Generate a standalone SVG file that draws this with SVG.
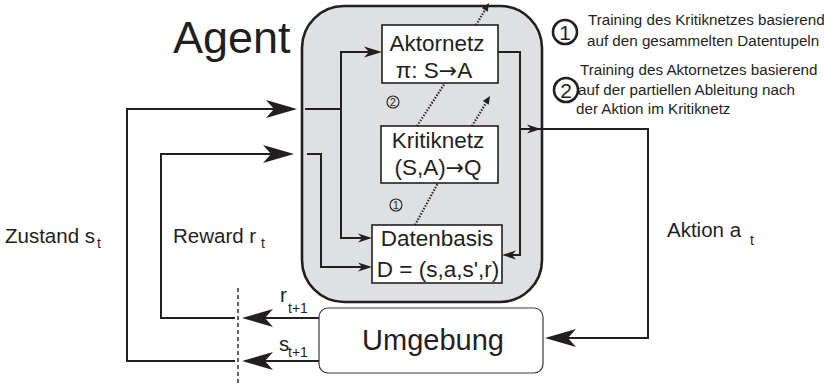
<svg xmlns="http://www.w3.org/2000/svg" width="824" height="386" viewBox="0 0 824 386">
  <style>
    text { font-family: "Liberation Sans", Arial, sans-serif; fill: #231f20; }
    .box { fill: #ffffff; stroke: #231f20; stroke-width: 1.6; }
    .wire { fill: none; stroke: #231f20; stroke-width: 2; }
    .dot { fill: none; stroke: #231f20; stroke-width: 2.2; stroke-dasharray: 1.4 1.6; }
    .head { fill: #231f20; stroke: none; }
    .inbox { font-size: 22.5px; }
    .arr { font-family: "DejaVu Sans", sans-serif; font-size: 22px; }
    .lbl { font-size: 20.5px; }
    .sub { font-size: 14px; }
    .note { font-size: 15.2px; }
    .ring { fill: none; stroke: #231f20; }
  </style>
  <defs>
    <!-- swallow-tail arrowheads pointing right, tip at origin -->
    <path id="bigHead" d="M0,0 L-31,-9 L-23,0 L-31,9 Z"/>
    <path id="smallHead" d="M0,0 L-18,-5.5 L-13,0 L-18,5.5 Z"/>
    <path id="tinyHead" d="M0,0 L-14,-4.5 L-10,0 L-14,4.5 Z"/>
    <path id="dotHead" d="M0,0 L-8,-3.5 L-8,3.5 Z"/>
  </defs>

  <!-- Agent container -->
  <g id="agent">
    <rect x="302" y="6" width="240" height="296" rx="42" ry="42" fill="#dfe0e2" stroke="#231f20" stroke-width="2.6"/>
    <text x="173" y="53" font-size="45">Agent</text>
  </g>

  <g id="aktornetz">
    <rect class="box" x="382" y="25" width="116" height="58"/>
    <text class="inbox" x="437" y="51" text-anchor="middle">Aktornetz</text>
    <text class="inbox" x="434" y="78" text-anchor="middle">π: S<tspan class="arr">→</tspan>A</text>
  </g>

  <g id="kritiknetz">
    <rect class="box" x="381" y="126" width="117" height="57"/>
    <text class="inbox" x="438" y="148" text-anchor="middle">Kritiknetz</text>
    <text class="inbox" x="438" y="175" text-anchor="middle">(S,A)<tspan class="arr">→</tspan>Q</text>
  </g>

  <g id="datenbasis">
    <rect class="box" x="372" y="225" width="130" height="58"/>
    <text class="inbox" x="437" y="246" text-anchor="middle">Datenbasis</text>
    <text class="inbox" x="438" y="277" text-anchor="middle">D = (s,a,s',r)</text>
  </g>

  <g id="umgebung">
    <rect x="319" y="308" width="224" height="65" rx="9" ry="9" fill="#ffffff" stroke="#3a3a3a" stroke-width="1.2"/>
    <text x="433" y="350" font-size="29" text-anchor="middle">Umgebung</text>
  </g>

  <!-- Connectors -->
  <g id="connectors">
    <!-- state feedback -->
    <path class="wire" d="M235,361 H127 V109 H290"/>
    <use href="#bigHead" class="head" transform="translate(297,109)"/>
    <!-- reward feedback -->
    <path class="wire" d="M235,318 H161 V154 H288"/>
    <use href="#bigHead" class="head" transform="translate(294,154)"/>

    <!-- inside agent: state to actor and to data base -->
    <path class="wire" d="M305,109 H341 V52 H372"/>
    <use href="#smallHead" class="head" transform="translate(382,52)"/>
    <path class="wire" d="M341,109 V238 H365"/>
    <use href="#tinyHead" class="head" transform="translate(372,238)"/>
    <!-- inside agent: reward to data base -->
    <path class="wire" d="M307,154 H321 V267 H365"/>
    <use href="#tinyHead" class="head" transform="translate(372,267)"/>

    <!-- action out of actor -->
    <path class="wire" d="M498,52 H520 V255 H509"/>
    <use href="#tinyHead" class="head" transform="translate(502,255) rotate(180)"/>
    <path class="wire" d="M520,129 H648 V338 H555"/>
    <use href="#tinyHead" class="head" transform="translate(541,129)"/>
    <use href="#bigHead" class="head" transform="translate(545,338) rotate(180)"/>

    <!-- environment outputs -->
    <path class="wire" d="M319,318 H250"/>
    <use href="#bigHead" class="head" transform="translate(242,318) rotate(180)"/>
    <path class="wire" d="M319,361 H250"/>
    <use href="#bigHead" class="head" transform="translate(242,361) rotate(180)"/>

    <!-- time step boundary -->
    <path d="M238,288 V386" fill="none" stroke="#231f20" stroke-width="1.4" stroke-dasharray="4 3"/>

    <!-- training paths -->
    <path class="dot" d="M415,225 L438,183"/>
    <path class="dot" d="M417,126 L445,83"/>
    <path class="dot" d="M472,126 L486,103"/>
    <use href="#dotHead" class="head" transform="translate(490,96) rotate(-58)"/>
    <path class="dot" d="M476,25 L485,10"/>
    <use href="#dotHead" class="head" transform="translate(489,3) rotate(-58)"/>
  </g>

  <!-- signal labels -->
  <g id="labels">
    <text class="lbl" x="5" y="243">Zustand s</text>
    <text class="sub" x="97" y="248">t</text>
    <text class="lbl" x="173" y="243">Reward r</text>
    <text class="sub" x="261" y="248">t</text>
    <text class="lbl" x="667" y="237">Aktion a</text>
    <text class="sub" x="750" y="245">t</text>
    <text class="lbl" x="280" y="302">r</text>
    <text class="sub" x="288" y="313">t+1</text>
    <text class="lbl" x="279" y="351">s</text>
    <text class="sub" x="288" y="357">t+1</text>
  </g>

  <!-- step markers inside agent -->
  <g id="marker-2-small">
    <circle class="ring" cx="393" cy="102" r="6" stroke-width="1.1"/>
    <text x="393" y="105.8" font-size="10.5" text-anchor="middle">2</text>
  </g>
  <g id="marker-1-small">
    <circle class="ring" cx="396" cy="205" r="6" stroke-width="1.1"/>
    <text x="396" y="208.8" font-size="10.5" text-anchor="middle">1</text>
  </g>

  <!-- legend -->
  <g id="legend-1">
    <circle class="ring" cx="565" cy="32" r="12" stroke-width="2.6"/>
    <text x="565" y="39.5" font-size="21" text-anchor="middle">1</text>
    <text class="note" x="588" y="25">Training des Kritiknetzes basierend</text>
    <text class="note" x="587" y="46">auf den gesammelten Datentupeln</text>
  </g>
  <g id="legend-2">
    <circle class="ring" cx="566" cy="90" r="12" stroke-width="2.6"/>
    <text x="566" y="97.5" font-size="21" text-anchor="middle">2</text>
    <text class="note" x="580" y="75">Training des Aktornetzes basierend</text>
    <text class="note" x="578" y="95">auf der partiellen Ableitung nach</text>
    <text class="note" x="576" y="114">der Aktion im Kritiknetz</text>
  </g>
</svg>
